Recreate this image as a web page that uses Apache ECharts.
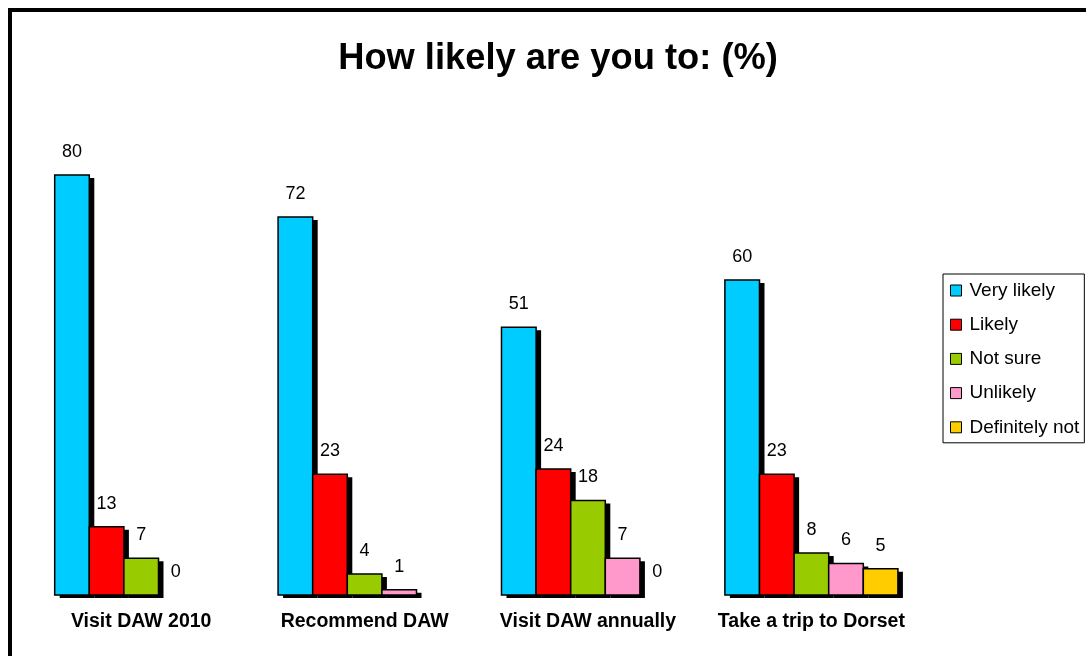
<!DOCTYPE html>
<html>
<head>
<meta charset="utf-8">
<script src="https://cdn.jsdelivr.net/npm/echarts@6/dist/echarts.min.js"></script>
<style>
html,body{margin:0;padding:0;background:#fff;}
#main{width:1086px;height:656px;}
</style>
</head>
<body>
<div id="main"></div>
<script>
const categories = ['Visit DAW 2010', 'Recommend DAW', 'Visit DAW annually', 'Take a trip to Dorset'];
const seriesNames = ['Very likely', 'Likely', 'Not sure', 'Unlikely', 'Definitely not'];
const veryLikely = [80, 72, 51, 60];
const likely = [13, 23, 24, 23];
const notSure = [7, 4, 18, 8];
const unlikely = [0, 1, 7, 6];
const definitelyNot = [null, null, 0, 5];
const colors = ['#00CCFF', '#FF0000', '#99CC00', '#FF99CC', '#FFCC00'];

const FONT = "'Liberation Sans', Arial, sans-serif";
const allValues = [veryLikely, likely, notSure, unlikely, definitelyNot];
const nSeries = seriesNames.length;

function toData(arr) {
  const out = [];
  arr.forEach(function (v, ci) { if (v !== null) out.push([ci, v]); });
  return out;
}

function makeRender(si) {
  return function (params, api) {
    const ci = api.value(0);
    const v = api.value(1);
    const base = api.coord([ci, 0]);
    const top = api.coord([ci, v]);
    const band = api.size([1, 0])[0];
    const bw = band * 0.1549;
    const x = base[0] + (si - nSeries / 2) * bw;
    const h = base[1] - top[1];
    const children = [];
    if (v > 0) {
      children.push({
        type: 'rect',
        shape: { x: x + 5, y: top[1] + 3, width: bw, height: h },
        style: { fill: '#000' }
      });
      children.push({
        type: 'rect',
        shape: { x: x, y: top[1], width: bw, height: h },
        style: { fill: colors[si], stroke: '#000', lineWidth: 1.5 }
      });
    }
    children.push({
      type: 'text',
      style: {
        text: String(v),
        x: x + bw / 2,
        y: top[1] - 14,
        align: 'center',
        verticalAlign: 'bottom',
        fontFamily: FONT,
        fontSize: 18,
        fill: '#000'
      }
    });
    return { type: 'group', children: children };
  };
}

const chart = echarts.init(document.getElementById('main'), null, { renderer: 'canvas' });
const option = {
  animation: false,
  backgroundColor: '#ffffff',
  title: {
    text: 'How likely are you to: (%)',
    left: 558,
    top: 41,
    padding: 0,
    textAlign: 'center',
    textStyle: { fontFamily: FONT, fontSize: 36.3, fontWeight: 'bold', color: '#000' }
  },
  legend: {
    orient: 'vertical',
    left: 943,
    top: 274,
    padding: [7, 5, 6, 7],
    borderColor: '#000',
    borderWidth: 1,
    itemWidth: 11,
    itemHeight: 11,
    itemGap: 15.2,
    icon: 'rect',
    selectedMode: false,
    itemStyle: { borderColor: '#000', borderWidth: 1 },
    textStyle: { fontFamily: FONT, fontSize: 19, color: '#000', padding: [0, 0, 0, 3] },
    data: seriesNames
  },
  grid: { left: 29.5, top: 175, width: 893.6, height: 420, containLabel: false },
  xAxis: {
    type: 'category',
    data: categories,
    axisLine: { show: false },
    axisTick: { show: false },
    splitLine: { show: false },
    axisLabel: { fontFamily: FONT, fontSize: 19.5, fontWeight: 'bold', color: '#000', margin: 17, interval: 0 }
  },
  yAxis: {
    type: 'value',
    min: 0,
    max: 80,
    show: false,
    splitLine: { show: false }
  },
  graphic: [{
    type: 'rect',
    silent: true,
    shape: { x: 10, y: 10, width: 1200, height: 800 },
    style: { fill: 'none', stroke: '#000', lineWidth: 4 },
    z: 100
  }],
  series: seriesNames.map(function (name, i) {
    return {
      name: name,
      type: 'custom',
      renderItem: makeRender(i),
      encode: { x: 0, y: 1 },
      data: toData(allValues[i]),
      itemStyle: { color: colors[i] },
      clip: false,
      emphasis: { disabled: true }
    };
  })
};
chart.setOption(option);
</script>
</body>
</html>
